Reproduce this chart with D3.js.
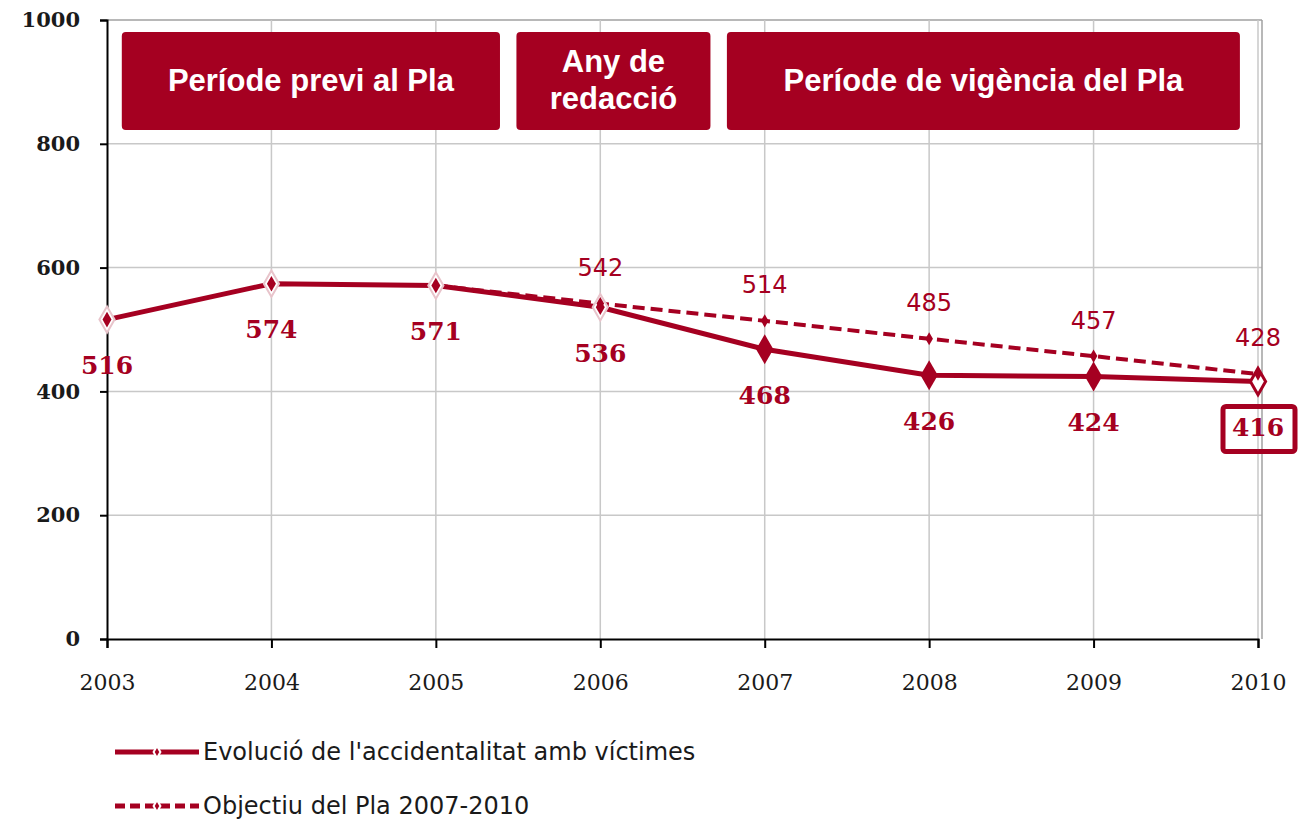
<!DOCTYPE html>
<html>
<head>
<meta charset="utf-8">
<script src="https://cdn.jsdelivr.net/npm/d3@7"></script>
<style>
  body { margin: 0; background: #fff; }
  svg text { font-family: "Liberation Sans", sans-serif; }
</style>
</head>
<body>
<div id="chart"></div>
<script>
// data
var years = [2003, 2004, 2005, 2006, 2007, 2008, 2009, 2010];
var accidents = [516, 574, 571, 536, 468, 426, 424, 416];
var targetYears = [2005, 2006, 2007, 2008, 2009, 2010];
var targets = [571, 542, 514, 485, 457, 428];
var yTicks = [0, 200, 400, 600, 800, 1000];
var periods = [
  { from: 2003.09, to: 2005.39, lines: ["Període previ al Pla"] },
  { from: 2005.49, to: 2006.67, lines: ["Any de", "redacció"] },
  { from: 2006.77, to: 2009.89, lines: ["Període de vigència del Pla"] }
];
var legendNames = ["Evolució de l'accidentalitat amb víctimes", "Objectiu del Pla 2007-2010"];

var red = "#a50021";

var margin = { top: 20, right: 48, bottom: 182, left: 107 },
    width = 1310 - margin.left - margin.right,
    height = 821 - margin.top - margin.bottom;

var svg = d3.select("#chart")
    .append("svg")
    .attr("width", 1310)
    .attr("height", 821)
    .append("g")
    .attr("transform", "translate(" + margin.left + "," + margin.top + ")");

var x = d3.scaleLinear().domain([2003, 2010]).range([0, width - 4]);
var y = d3.scaleLinear().domain([0, 1000]).range([height, 0]);

// grid
svg.append("g").selectAll("line")
    .data(yTicks.slice(1))
    .enter().append("line")
    .attr("x1", 0).attr("x2", width)
    .attr("y1", d => y(d)).attr("y2", d => y(d))
    .attr("stroke", d => d == 1000 ? "#a0a0a0" : "#c8c8c8").attr("stroke-width", 1.5);

svg.append("g").selectAll("line")
    .data(years.slice(1))
    .enter().append("line")
    .attr("x1", d => x(d)).attr("x2", d => x(d))
    .attr("y1", 0).attr("y2", height)
    .attr("stroke", "#c8c8c8").attr("stroke-width", 1.5);

// right border
svg.append("line")
    .attr("x1", width).attr("x2", width)
    .attr("y1", 0).attr("y2", height)
    .attr("stroke", "#a0a0a0").attr("stroke-width", 1.5);

// axes
var yAxis = svg.append("g")
    .call(d3.axisLeft(y).tickValues(yTicks).tickFormat(d3.format("d")).tickSize(7).tickPadding(20));
var xAxis = svg.append("g")
    .attr("transform", "translate(0," + height + ")")
    .call(d3.axisBottom(x).tickValues(years).tickFormat(d3.format("d")).tickSize(9).tickPadding(26));
[yAxis, xAxis].forEach(function (a) {
  a.select(".domain").attr("stroke", "#000").attr("stroke-width", 2);
  a.selectAll(".tick line").attr("stroke", "#000").attr("stroke-width", 2);
});
yAxis.selectAll("text")
    .style("font-family", "'DejaVu Serif', serif")
    .style("font-weight", "bold")
    .style("font-size", "21px")
    .attr("fill", "#1a1a1a");
xAxis.selectAll("text")
    .style("font-family", "'DejaVu Serif', serif")
    .style("font-size", "22px")
    .attr("fill", "#1a1a1a");

// period boxes
var boxes = svg.append("g").selectAll("g")
    .data(periods)
    .enter().append("g");
boxes.append("rect")
    .attr("x", d => x(d.from))
    .attr("y", 12)
    .attr("width", d => x(d.to) - x(d.from))
    .attr("height", 98)
    .attr("rx", 4)
    .attr("fill", red);
boxes.each(function (d) {
  var cx = (x(d.from) + x(d.to)) / 2;
  var t = d3.select(this).append("text")
      .attr("text-anchor", "middle")
      .attr("fill", "#fff")
      .style("font-weight", "bold")
      .style("font-size", "31px");
  d.lines.forEach(function (l, i) {
    t.append("tspan")
        .attr("x", cx)
        .attr("y", 60 + (i - (d.lines.length - 1) / 2) * 37)
        .attr("dy", "0.35em")
        .text(l);
  });
});

var diamond = d3.symbol().type(d3.symbolDiamond);

var line = d3.line()
    .x(function (d) { return x(d[0]); })
    .y(function (d) { return y(d[1]); });

var targetPts = targetYears.map((d, i) => [d, targets[i]]);
var accPts = years.map((d, i) => [d, accidents[i]]);

// target line (dashed)
svg.append("path")
    .datum(targetPts)
    .attr("d", line)
    .attr("fill", "none")
    .attr("stroke", red)
    .attr("stroke-width", 4)
    .attr("stroke-dasharray", "12,6");

svg.append("path")
    .datum(accPts)
    .attr("d", line)
    .attr("fill", "none")
    .attr("stroke", red)
    .attr("stroke-width", 5);

// accident markers
svg.selectAll(".acc")
    .data(accPts)
    .enter().append("path")
    .attr("class", "acc")
    .attr("transform", d => "translate(" + x(d[0]) + "," + y(d[1]) + ")")
    .attr("d", (d, i) => diamond.size(i >= 4 && i < 7 ? 260 : 200)())
    .attr("fill", (d, i) => i >= 4 && i < 7 ? red : "#fff")
    .attr("stroke", (d, i) => i >= 4 && i < 7 ? "none" : (i == 7 ? red : "#e8c4cb"))
    .attr("stroke-width", (d, i) => i == 7 ? 3 : 2);

svg.selectAll(".accin")
    .data(accPts.slice(0, 4))
    .enter().append("path")
    .attr("transform", d => "translate(" + x(d[0]) + "," + y(d[1]) + ")")
    .attr("d", diamond.size(70)())
    .attr("fill", red);

// target markers
svg.selectAll(".tgt")
    .data(targetPts.slice(1))
    .enter().append("path")
    .attr("transform", d => "translate(" + x(d[0]) + "," + y(d[1]) + ")")
    .attr("d", diamond.size(50)())
    .attr("fill", red);

// labels
svg.selectAll(".accl")
    .data(accPts)
    .enter().append("text")
    .attr("x", d => x(d[0]))
    .attr("y", d => y(d[1]) + 46)
    .attr("dy", "0.35em")
    .attr("text-anchor", "middle")
    .attr("fill", red)
    .style("font-family", "'DejaVu Serif', serif")
    .style("font-weight", "bold")
    .style("font-size", "25px")
    .text(d => d[1]);

svg.selectAll(".tgtl")
    .data(targetPts.slice(1))
    .enter().append("text")
    .attr("x", d => x(d[0]))
    .attr("y", d => y(d[1]) - 36)
    .attr("dy", "0.35em")
    .attr("text-anchor", "middle")
    .attr("fill", red)
    .style("font-family", "'DejaVu Sans', sans-serif")
    .style("font-size", "24px")
    .text(d => d[1]);

// highlight box on the last value
var last = accPts[accPts.length - 1];
svg.append("rect")
    .attr("x", x(last[0]) - 35)
    .attr("y", y(last[1]) + 25)
    .attr("width", 72)
    .attr("height", 45)
    .attr("rx", 3)
    .attr("fill", "none")
    .attr("stroke", red)
    .attr("stroke-width", 5);

// legend
var legend = d3.select("svg").append("g")
    .attr("transform", "translate(115,752)");
var items = legend.selectAll("g")
    .data(legendNames)
    .enter().append("g")
    .attr("transform", (d, i) => "translate(0," + i * 54 + ")");
items.append("line")
    .attr("x1", 0).attr("x2", 84)
    .attr("stroke", red)
    .attr("stroke-width", 5)
    .attr("stroke-dasharray", (d, i) => i == 1 ? "10,5" : null);
items.append("path")
    .attr("transform", "translate(42,0)")
    .attr("d", diamond.size(40)())
    .attr("fill", red)
    .attr("stroke", "#fff")
    .attr("stroke-width", 2);
items.append("text")
    .attr("x", 88)
    .attr("dy", "0.35em")
    .attr("fill", "#1a1a1a")
    .style("font-family", "'DejaVu Sans', sans-serif")
    .style("font-size", "24px")
    .text(d => d);
</script>
</body>
</html>
